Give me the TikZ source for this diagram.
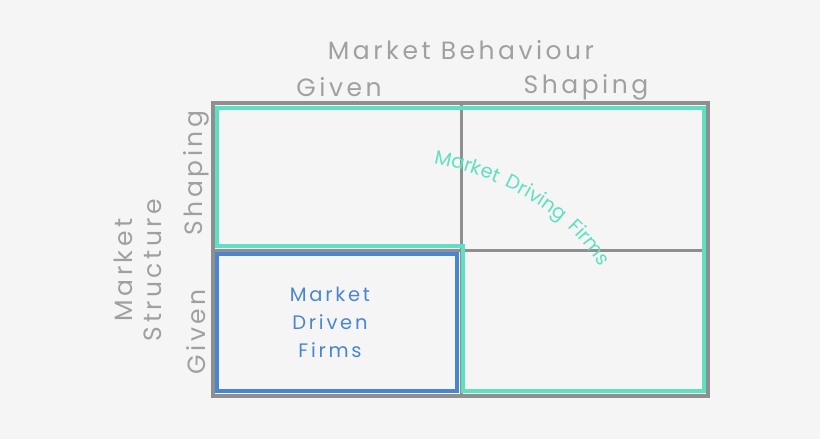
\documentclass[tikz,border=0pt]{standalone}
\usepackage{fontspec}
\setmainfont{Poppins}[LetterSpace=14]
\usetikzlibrary{decorations.text}
\definecolor{bg}{HTML}{F5F5F5}
\definecolor{gr}{HTML}{8F8F8F}
\definecolor{tl}{HTML}{5FE0C2}
\definecolor{bl}{HTML}{4A86D0}
\tikzset{lab/.style={text=gr!85,font=\fontsize{25}{29}\selectfont},
 blab/.style={text=bl,font=\fontsize{19.5}{28}\selectfont,align=center}}
\begin{document}
\begin{tikzpicture}[x=1pt,y=-1pt]
\fill[bg] (0,0) rectangle (820,439);
\useasboundingbox (0,0) rectangle (820,439);
\draw[gr,line width=4pt] (213,103) rectangle (708,396);
\draw[gr,line width=3pt] (461,103) -- (461,396) (213,250) -- (708,250);
\draw[tl,line width=4pt] (217,108) -- (704,108) -- (704,391) -- (463,391) -- (463,246) -- (217,246) -- cycle;
\draw[bl,line width=4pt] (217,254) rectangle (457,391);
\node[lab] (mb) at (461,50) {Market Behaviour};
\node[lab] (g1) at (339,87) {Given};
\node[lab] (s1) at (586,87) {Shaping};
\node[lab,rotate=90] (s2) at (196,173) {Shaping};
\node[lab,rotate=90] (g2) at (196,332) {Given};
\node[lab,rotate=90,align=center] (ms) at (138,270) {Market\\Structure};
\node[blab] (md) at (330,322) {Market\\Driven\\Firms};
\path[decorate,decoration={text along path,text align=center,text color=tl,
 text={|\fontsize{19.5}{22}\selectfont|Market Driving Firms}}]
 (394,158) .. controls (500,166) and (592,222) .. (616,304);
\end{tikzpicture}
\end{document}
